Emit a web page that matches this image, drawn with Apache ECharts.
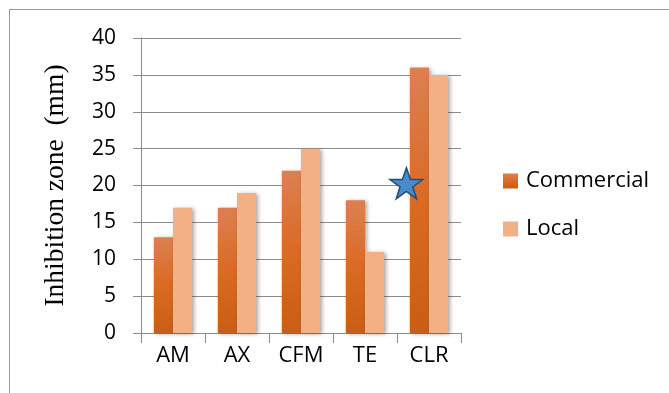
<!DOCTYPE html>
<html>
<head>
<meta charset="utf-8">
<script src="https://cdn.jsdelivr.net/npm/echarts@6/dist/echarts.min.js"></script>
<style>
html,body{margin:0;padding:0;background:#fff;}
#frame{position:absolute;left:9px;top:9px;width:700px;height:400px;border:1.5px solid #9a9a9a;box-sizing:border-box;}
#chart{position:absolute;left:0;top:0;width:669px;height:393px;}
</style>
</head>
<body>
<div id="frame"></div>
<div id="chart"></div>
<script>
const categories = ['AM', 'AX', 'CFM', 'TE', 'CLR'];
const commercial = [13, 17, 22, 18, 36];
const local = [17, 19, 25, 11, 35];
const yTicks = [0, 5, 10, 15, 20, 25, 30, 35, 40];
const starMark = { category: 'CLR', value: 20.3 };

const chart = echarts.init(document.getElementById('chart'));
const font = 'Open Sans, Liberation Sans, sans-serif';
const barShadow = { shadowColor: 'rgba(0,0,0,0.35)', shadowBlur: 4, shadowOffsetX: 2, shadowOffsetY: 1 };

chart.setOption({
  animation: false,
  grid: { left: 141, top: 38, right: 208, bottom: 60 },
  legend: {
    orient: 'vertical',
    left: 503,
    top: 170,
    padding: 0,
    itemWidth: 15,
    itemHeight: 15,
    itemGap: 26,
    icon: 'rect',
    textStyle: { fontFamily: font, fontSize: 22, color: '#000', padding: [0, 0, 0, 3] },
    data: ['Commercial', 'Local']
  },
  xAxis: {
    type: 'category',
    data: categories,
    axisLine: { lineStyle: { color: '#8c8c8c', width: 1 } },
    axisTick: { show: true, alignWithLabel: false, length: 10, lineStyle: { color: '#8c8c8c' } },
    axisLabel: { fontFamily: font, fontSize: 22, color: '#000', margin: 12 }
  },
  yAxis: {
    type: 'value',
    min: yTicks[0],
    max: yTicks[yTicks.length - 1],
    interval: 5,
    name: 'Inhibition zone\u00a0 (mm)',
    nameLocation: 'middle',
    nameGap: 71,
    nameTextStyle: { fontFamily: 'Liberation Serif, serif', fontSize: 27.5, color: '#000' },
    axisLine: { show: true, lineStyle: { color: '#8c8c8c', width: 1 } },
    axisTick: { show: true, inside: false, length: 8, lineStyle: { color: '#8c8c8c' } },
    axisLabel: { fontFamily: font, fontSize: 21, color: '#000', margin: 25 },
    splitLine: { lineStyle: { color: '#8c8c8c', width: 1 } }
  },
  series: [
    {
      name: 'Commercial',
      type: 'bar',
      data: commercial,
      barGap: '0%',
      barCategoryGap: '40%',
      itemStyle: Object.assign({
        color: new echarts.graphic.LinearGradient(0, 0, 0, 1, [
          { offset: 0, color: '#dc8050' },
          { offset: 0.5, color: '#da6a24' },
          { offset: 1, color: '#c95e17' }
        ])
      }, barShadow),
      markPoint: {
        symbol: 'path://M50,0 L61.8,35.3 L98.9,35.3 L68.8,57.4 L80.1,92.7 L50,70.8 L19.9,92.7 L31.2,57.4 L1.1,35.3 L38.2,35.3 Z',
        symbolSize: [33, 31],
        symbolOffset: [-13, 0],
        itemStyle: { color: '#4a8ccb', borderColor: '#1f4e79', borderWidth: 1.5 },
        label: { show: false },
        data: [{ coord: [starMark.category, starMark.value] }]
      }
    },
    {
      name: 'Local',
      type: 'bar',
      data: local,
      itemStyle: Object.assign({ color: '#f3b084' }, barShadow)
    }
  ]
});
</script>
</body>
</html>
